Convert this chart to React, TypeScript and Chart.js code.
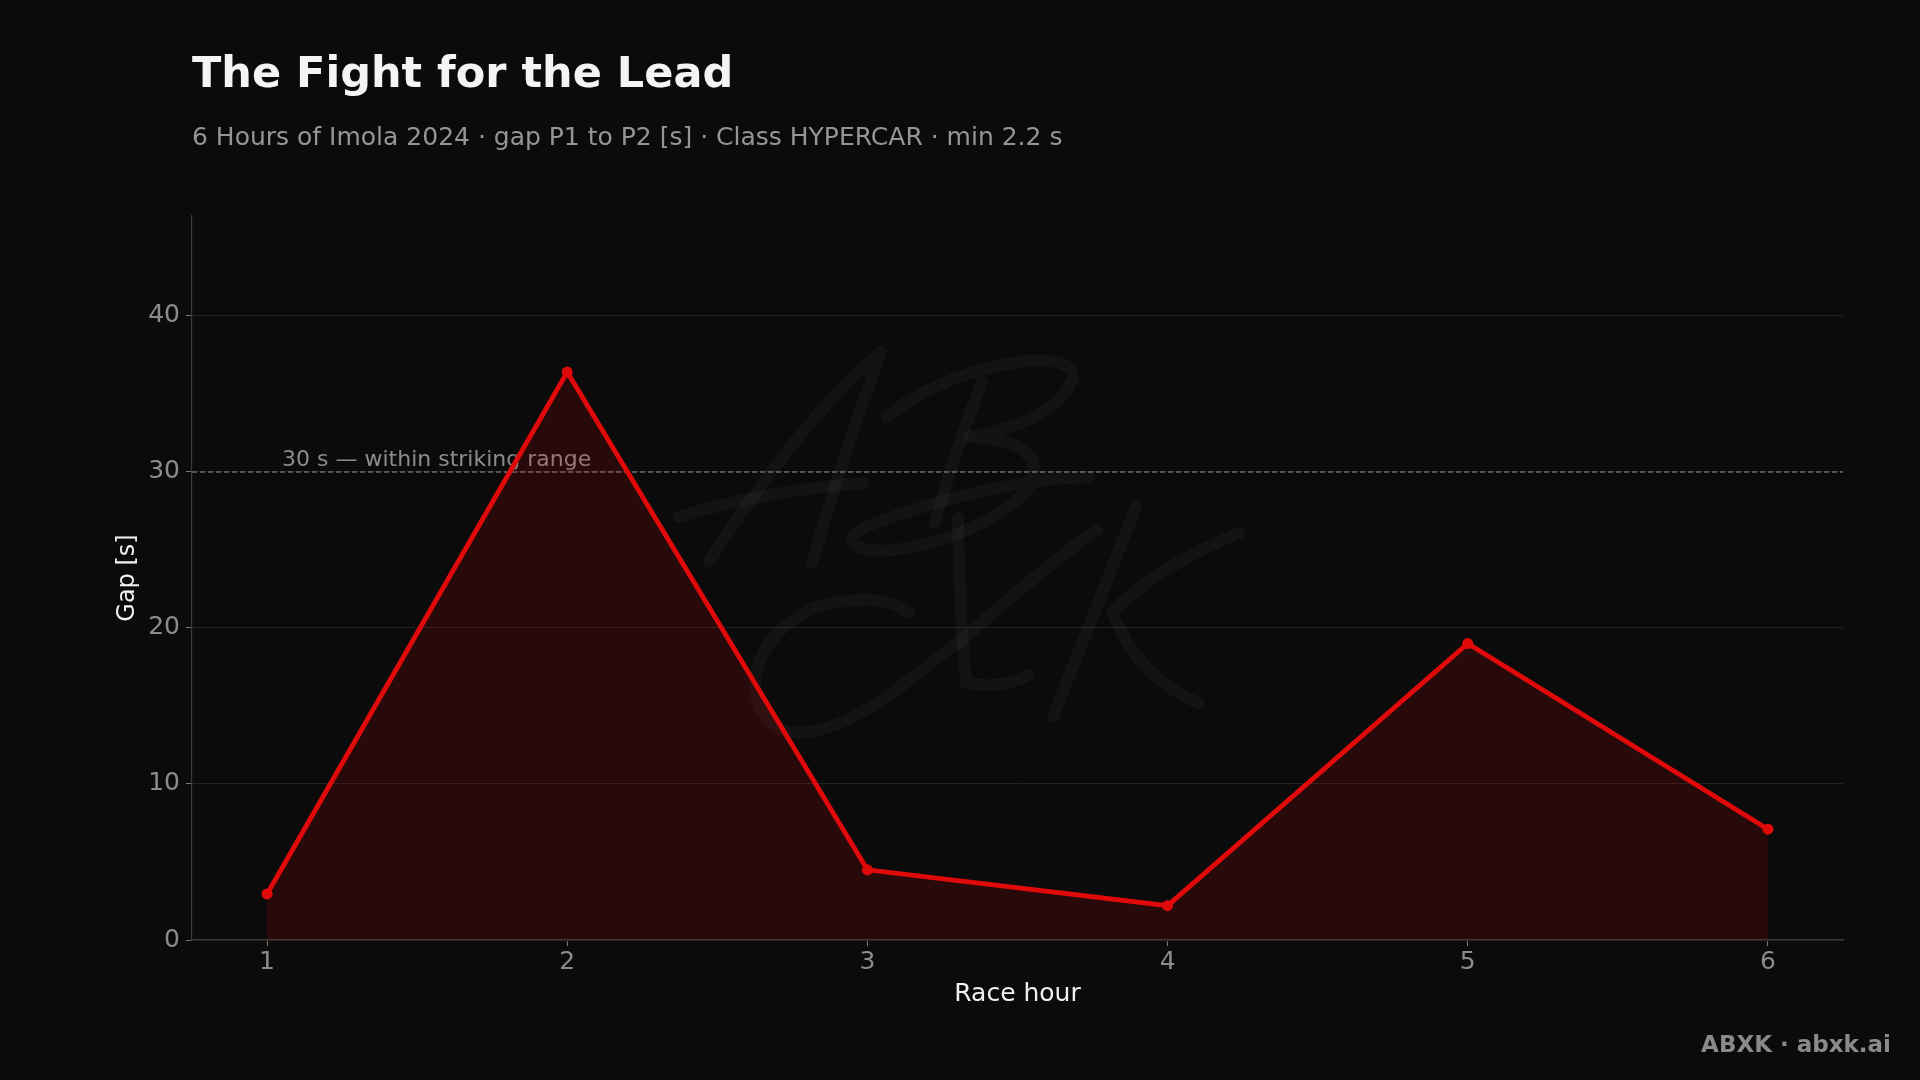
import React, { useEffect, useRef } from "react";
import { Chart, registerables } from "chart.js";

Chart.register(...registerables);

const raceHours = [1, 2, 3, 4, 5, 6];
const gapSeconds = [2.95, 36.4, 4.5, 2.2, 19.0, 7.1];
const yTickValues = [0, 10, 20, 30, 40];
const xTickValues = [1, 2, 3, 4, 5, 6];
const thresholdSeconds = 30;
const thresholdLabel = "30 s — within striking range";
const titleText = "The Fight for the Lead";
const subtitleText = "6 Hours of Imola 2024 · gap P1 to P2 [s] · Class HYPERCAR · min 2.2 s";
const footerText = "ABXK · abxk.ai";
const xAxisTitle = "Race hour";
const yAxisTitle = "Gap [s]";

const FONT = "'DejaVu Sans', 'Liberation Sans', sans-serif";
const BG = "#0b0b0b";
const RED = "#e10a0a";

function drawWatermark(ctx: CanvasRenderingContext2D) {
  ctx.save();
  ctx.strokeStyle = "rgba(255,255,255,0.036)";
  ctx.lineWidth = 12;
  ctx.lineCap = "round";
  ctx.lineJoin = "round";
  // A
  ctx.beginPath();
  ctx.moveTo(709, 562);
  ctx.quadraticCurveTo(800, 420, 881, 352);
  ctx.quadraticCurveTo(845, 450, 812, 563);
  ctx.stroke();
  ctx.beginPath();
  ctx.moveTo(678, 517);
  ctx.quadraticCurveTo(769, 490, 863, 483);
  ctx.stroke();
  // B
  ctx.beginPath();
  ctx.moveTo(982, 382);
  ctx.quadraticCurveTo(955, 450, 935, 523);
  ctx.stroke();
  ctx.beginPath();
  ctx.moveTo(887, 417);
  ctx.bezierCurveTo(940, 370, 1070, 340, 1073, 377);
  ctx.quadraticCurveTo(1060, 420, 970, 437);
  ctx.bezierCurveTo(1060, 440, 1060, 500, 940, 540);
  ctx.bezierCurveTo(860, 565, 830, 540, 870, 525);
  ctx.quadraticCurveTo(990, 480, 1089, 477);
  ctx.stroke();
  // X
  ctx.beginPath();
  ctx.moveTo(909, 613);
  ctx.quadraticCurveTo(880, 590, 816, 607);
  ctx.bezierCurveTo(740, 640, 740, 720, 790, 732);
  ctx.bezierCurveTo(850, 740, 930, 660, 962, 640);
  ctx.quadraticCurveTo(1040, 570, 1097, 530);
  ctx.stroke();
  ctx.beginPath();
  ctx.moveTo(958, 518);
  ctx.quadraticCurveTo(960, 620, 966, 683);
  ctx.quadraticCurveTo(1000, 690, 1029, 675);
  ctx.stroke();
  // K
  ctx.beginPath();
  ctx.moveTo(1136, 507);
  ctx.lineTo(1053, 717);
  ctx.stroke();
  ctx.beginPath();
  ctx.moveTo(1239, 533);
  ctx.quadraticCurveTo(1160, 565, 1112, 612);
  ctx.quadraticCurveTo(1140, 680, 1199, 703);
  ctx.stroke();
  ctx.restore();
}

const decorPlugin = {
  id: "decor",
  beforeDraw(chart: any) {
    const { ctx, width, height } = chart;
    ctx.save();
    ctx.fillStyle = BG;
    ctx.fillRect(0, 0, width, height);
    ctx.restore();
  },
  beforeDatasetsDraw(chart: any) {
    const { ctx, chartArea, scales } = chart;
    drawWatermark(ctx);
    const y = scales.y.getPixelForValue(thresholdSeconds);
    ctx.save();
    ctx.strokeStyle = "#6c6c6c";
    ctx.lineWidth = 1.5;
    ctx.setLineDash([5, 3]);
    ctx.beginPath();
    ctx.moveTo(chartArea.left, y);
    ctx.lineTo(chartArea.right, y);
    ctx.stroke();
    ctx.setLineDash([]);
    ctx.fillStyle = "#8c8c8c";
    ctx.font = `22px ${FONT}`;
    ctx.textAlign = "left";
    ctx.textBaseline = "alphabetic";
    ctx.fillText(thresholdLabel, scales.x.getPixelForValue(1.05), y - 5.5);
    ctx.restore();
  },
  afterDraw(chart: any) {
    const { ctx, width } = chart;
    ctx.save();
    ctx.textAlign = "left";
    ctx.textBaseline = "alphabetic";
    ctx.fillStyle = "#f4f4f4";
    ctx.font = `bold 43px ${FONT}`;
    ctx.fillText(titleText, 192, 87);
    ctx.fillStyle = "#959595";
    ctx.font = `25px ${FONT}`;
    ctx.fillText(subtitleText, 192, 145);
    ctx.textAlign = "right";
    ctx.fillStyle = "#8a8a8a";
    ctx.font = `bold 23px ${FONT}`;
    ctx.fillText(footerText, width - 29, 1052);
    ctx.restore();
  },
};

export default function App() {
  const canvasRef = useRef<HTMLCanvasElement | null>(null);

  useEffect(() => {
    document.body.style.margin = "0";
    document.body.style.background = BG;
    const canvas = canvasRef.current;
    if (!canvas) return;
    const chart = new Chart(canvas, {
      type: "line",
      data: {
        datasets: [
          {
            data: raceHours.map((h, i) => ({ x: h, y: gapSeconds[i] })),
            borderColor: RED,
            borderWidth: 4.8,
            backgroundColor: "rgba(225,10,10,0.14)",
            fill: "origin",
            pointRadius: 5.5,
            pointBackgroundColor: RED,
            pointBorderWidth: 0,
            tension: 0,
          },
        ],
      },
      options: {
        animation: false,
        responsive: false,
        devicePixelRatio: 1,
        layout: { padding: { left: 0, right: 77, top: 216, bottom: 0 } },
        plugins: {
          legend: { display: false },
          tooltip: { enabled: false },
          title: { display: false },
        },
        scales: {
          x: {
            type: "linear",
            min: 0.75,
            max: 6.25,
            afterBuildTicks: (s: any) => {
              s.ticks = xTickValues.map((v) => ({ value: v }));
            },
            afterFit: (s: any) => {
              s.height = 140;
            },
            ticks: {
              color: "#8c8c8c",
              font: { family: FONT, size: 25 },
              padding: 1,
              callback: (v: any) => String(v),
            },
            grid: {
              drawOnChartArea: false,
              drawTicks: true,
              tickLength: 6,
              tickColor: "#7a7a7a",
              color: "#222222",
            },
            border: { color: "#3a3a3a", width: 1.2 },
            title: {
              display: true,
              text: xAxisTitle,
              color: "#f0f0f0",
              font: { family: FONT, size: 25 },
              padding: { top: 0, bottom: 71 },
            },
          },
          y: {
            min: 0,
            max: 46.4,
            afterBuildTicks: (s: any) => {
              s.ticks = yTickValues.map((v) => ({ value: v }));
            },
            afterFit: (s: any) => {
              s.width = 192;
            },
            ticks: {
              color: "#8c8c8c",
              font: { family: FONT, size: 25 },
              padding: 6,
              callback: (v: any) => String(v),
            },
            grid: {
              color: "#222222",
              drawTicks: true,
              tickLength: 6,
              tickColor: "#7a7a7a",
            },
            border: { color: "#3a3a3a", width: 1.2 },
            title: {
              display: true,
              text: yAxisTitle,
              color: "#f0f0f0",
              font: { family: FONT, size: 24 },
              padding: { top: 113, bottom: 0 },
            },
          },
        },
      },
      plugins: [decorPlugin],
    } as any);
    return () => chart.destroy();
  }, []);

  return (
    <div style={{ position: "absolute", left: 0, top: 0, width: 1920, height: 1080, background: BG }}>
      <canvas ref={canvasRef} width={1920} height={1080} style={{ display: "block", width: 1920, height: 1080 }} />
    </div>
  );
}
